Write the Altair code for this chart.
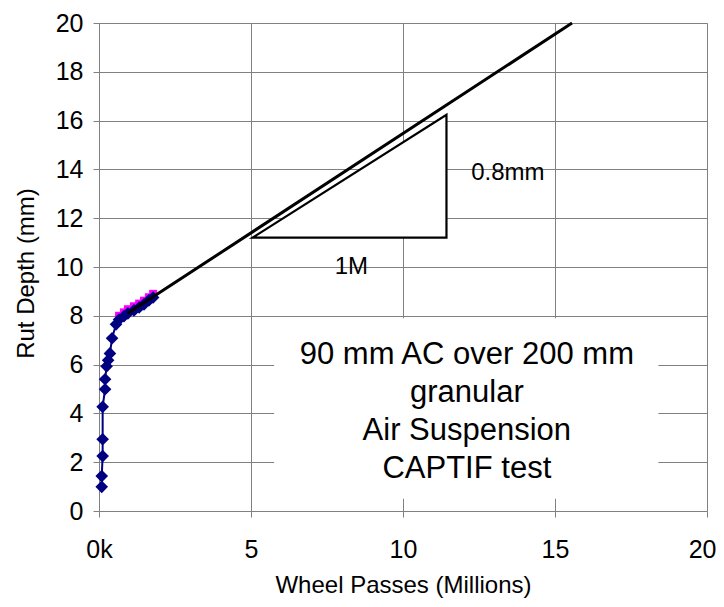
import json
import altair as alt
import pandas as pd

# ---- data ----
blue_x = [0.09, 0.09, 0.12, 0.12, 0.12, 0.20, 0.20, 0.25, 0.30, 0.36,
          0.43, 0.56, 0.66, 0.82, 0.95, 1.15, 1.32, 1.48, 1.64, 1.78]
blue_y = [0.99, 1.43, 2.25, 2.94, 4.27, 4.99, 5.40, 5.93, 6.18, 6.46,
          7.08, 7.65, 7.85, 7.98, 8.10, 8.22, 8.34, 8.47, 8.63, 8.75]

mag_x = [0.66, 0.82, 0.95, 1.15, 1.32, 1.48, 1.64, 1.78]
mag_y = [8.00, 8.14, 8.27, 8.39, 8.50, 8.62, 8.76, 8.90]

trend_x = [0.95, 15.56]
trend_y = [8.10, 20.0]

tri_x = [5.05, 11.43]
tri_y = [11.2, 16.24]
tri_base = 11.2

ann_text = ["0.8mm", "1M"]
ann_x = [13.45, 8.3]
ann_y = [13.87, 10.0]

box_x = [5.76, 18.4]
box_y = [0.5, 7.9]
box_lines = ["90 mm AC over 200 mm", "granular", "Air Suspension", "CAPTIF test"]
box_first_line = [12.1, 6.4]

x_ticks = [0, 5, 10, 15, 20]
x_tick_labels = ["0k", "5", "10", "15", "20"]
y_ticks = [0, 2, 4, 6, 8, 10, 12, 14, 16, 18, 20]

FONT = "Liberation Sans"
GRID = "#808080"

xscale = alt.Scale(domain=[0, 20], nice=False, zero=False)
yscale = alt.Scale(domain=[0, 20], nice=False, zero=False)

label_expr = (json.dumps(x_tick_labels).replace('"', "'")
              + "[indexof(" + json.dumps(x_ticks) + ", datum.value)]")
last_tick = x_ticks[-1]

x_axis = alt.Axis(values=x_ticks, labelExpr=label_expr, title="Wheel Passes (Millions)",
                  grid=True, gridColor=GRID, gridWidth=1, domainColor=GRID, tickColor=GRID,
                  tickSize=6, labelPadding=20, labelFontSize=25, labelFont=FONT,
                  labelAlign={"condition": {"test": f"datum.value === {last_tick}", "value": "right"},
                              "value": "center"},
                  labelOffset={"condition": {"test": f"datum.value === {last_tick}", "value": 9},
                               "value": 0},
                  labelColor="black", titleFont=FONT, titleFontSize=24, titleFontWeight="normal",
                  titleColor="black", titleX=304, titleY=74, titleBaseline="middle",
                  titleAlign="center", labelFlush=False)
y_axis = alt.Axis(values=y_ticks, title="Rut Depth (mm)",
                  grid=True, gridColor=GRID, gridWidth=1, domainColor=GRID, tickColor=GRID,
                  tickSize=6, labelPadding=10, labelFontSize=25, labelFont=FONT,
                  labelColor="black", titleFont=FONT, titleFontSize=24, titleFontWeight="normal",
                  titleColor="black", titleX=-73, titleY=250, titleAngle=270,
                  titleBaseline="middle", titleAlign="center", labelFlush=False)

# box background (hides gridlines)
box_df = pd.DataFrame({"x": [box_x[0]], "x2": [box_x[1]], "y": [box_y[0]], "y2": [box_y[1]]})
box = alt.Chart(box_df).mark_rect(fill="white").encode(
    x=alt.X("x:Q", scale=xscale, axis=x_axis),
    x2="x2:Q",
    y=alt.Y("y:Q", scale=yscale, axis=y_axis),
    y2="y2:Q",
)

tri_df = pd.DataFrame({"x": tri_x, "y": tri_y, "y2": [tri_base] * len(tri_x)})
tri = alt.Chart(tri_df).mark_area(fill="white", stroke="black", strokeWidth=2.2,
                                   fillOpacity=1).encode(
    x=alt.X("x:Q", scale=xscale), y=alt.Y("y:Q", scale=yscale), y2="y2:Q")

mag_df = pd.DataFrame({"x": mag_x, "y": mag_y})
mag = alt.Chart(mag_df).mark_point(shape="square", filled=True, size=64,
                                    color="#FF00FF", opacity=1).encode(
    x=alt.X("x:Q", scale=xscale), y=alt.Y("y:Q", scale=yscale))

blue_df = pd.DataFrame({"x": blue_x, "y": blue_y, "o": list(range(len(blue_x)))})
blue_line = alt.Chart(blue_df).mark_line(color="#000080", strokeWidth=2).encode(
    x=alt.X("x:Q", scale=xscale), y=alt.Y("y:Q", scale=yscale), order="o:Q")
blue_pts = alt.Chart(blue_df).mark_point(shape="diamond", filled=True, size=160,
                                          color="#000080", opacity=1).encode(
    x=alt.X("x:Q", scale=xscale), y=alt.Y("y:Q", scale=yscale))

trend_df = pd.DataFrame({"x": trend_x, "y": trend_y})
trend = alt.Chart(trend_df).mark_line(color="black", strokeWidth=3).encode(
    x=alt.X("x:Q", scale=xscale), y=alt.Y("y:Q", scale=yscale))

ann_df = pd.DataFrame({"x": ann_x, "y": ann_y, "t": ann_text})
ann = alt.Chart(ann_df).mark_text(font=FONT, fontSize=24, color="black",
                                   align="center", baseline="middle").encode(
    x=alt.X("x:Q", scale=xscale), y=alt.Y("y:Q", scale=yscale), text="t:N")

box_text = alt.Chart(pd.DataFrame({"a": [0]})).mark_text(
    font=FONT, fontSize=31, color="black", align="center", baseline="middle",
    lineHeight=38).encode(
    x=alt.datum(box_first_line[0], scale=xscale),
    y=alt.datum(box_first_line[1], scale=yscale),
    text=alt.value(box_lines))

chart = alt.layer(box, tri, mag, blue_line, blue_pts, trend, ann, box_text).properties(
    width=608, height=488,
    autosize=alt.AutoSizeParams(type="none"),
    padding={"left": 91, "top": 15, "right": 9, "bottom": 88},
).configure_view(stroke=None).configure(background="white")

chart.save("out.html", embed_options={"renderer": "svg", "actions": False})
